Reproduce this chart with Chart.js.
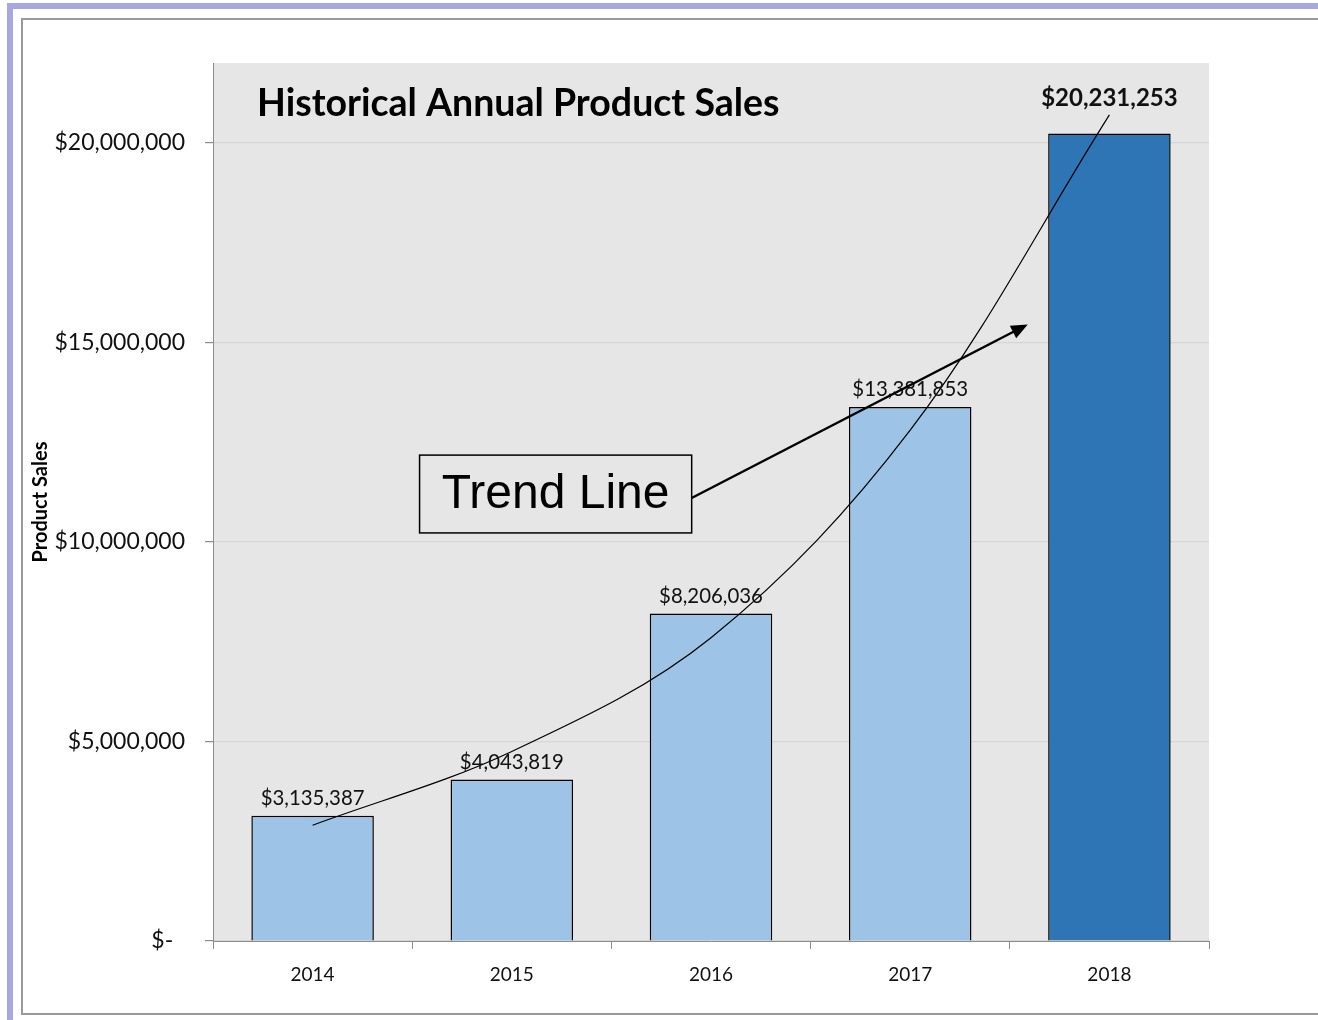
<!DOCTYPE html>
<html>
<head>
<meta charset="utf-8">
<script src="https://cdn.jsdelivr.net/npm/chart.js@4.4.1/dist/chart.umd.min.js"></script>
<style>
  html, body { margin: 0; padding: 0; background: #fff; }
  body { width: 1318px; height: 1020px; position: relative; overflow: hidden; }
  .outer { position: absolute; left: 7px; top: 3px; width: 1400px; height: 1100px;
           border-left: 6px solid #a7a7e2; border-top: 6px solid #a7a7e2; }
  .inner { position: absolute; left: 21px; top: 18px; width: 1400px; height: 993px;
           border: 2px solid #9a9a9a; }
  .wrap { position: absolute; left: 0; top: 0; width: 1318px; height: 1020px; }
</style>
</head>
<body>
<div class="outer"></div>
<div class="inner"></div>
<div class="wrap"><canvas id="sales-chart"></canvas></div>
<script>
const years = ['2014', '2015', '2016', '2017', '2018'];
const sales = [3135387, 4043819, 8206036, 13381853, 20231253];
// trend curve at each year
const trendValues = [2900000, 4750000, 7600000, 12800000, 20700000];
const yTicks = [0, 5000000, 10000000, 15000000, 20000000];
const chartTitle = 'Historical Annual Product Sales';
const yTitle = 'Product Sales';
// note box + arrow, in data units (x = year index, y = dollars)
const noteText = 'Trend Line';
const noteBox = [0.537, 12175000, 1.903, 10225000];
const noteArrow = [1.903, 11100000, 3.59, 15450000];

const money = v => v === 0 ? '$-  ' : '$' + v.toLocaleString('en-US');

const plotBg = {
  id: 'plotBg',
  beforeDraw(chart) {
    const { ctx, chartArea: a } = chart;
    ctx.save();
    ctx.fillStyle = '#e6e6e6';
    ctx.fillRect(a.left, a.top, a.right - a.left, a.bottom - a.top);
    ctx.restore();
  }
};

const extras = {
  id: 'extras',
  afterDatasetsDraw(chart) {
    const { ctx, chartArea: a, scales: { x, y } } = chart;
    ctx.save();
    // value labels
    const bars = chart.getDatasetMeta(1).data;
    bars.forEach((bar, i) => {
      const last = i === sales.length - 1;
      ctx.font = last ? 'bold 24px Lato' : '20.4px Lato';
      ctx.fillStyle = '#111';
      ctx.textAlign = 'center';
      ctx.textBaseline = 'alphabetic';
      ctx.fillText(money(sales[i]), bar.x, bar.y - (last ? 28 : 11));
    });
    // title
    ctx.font = 'bold 37.5px Lato';
    ctx.fillStyle = '#000';
    ctx.textAlign = 'left';
    ctx.fillText(chartTitle, a.left + 44, a.top + 53);
    // note box
    const bx1 = x.getPixelForValue(noteBox[0]), by1 = y.getPixelForValue(noteBox[1]);
    const bx2 = x.getPixelForValue(noteBox[2]), by2 = y.getPixelForValue(noteBox[3]);
    ctx.fillStyle = '#e6e6e6';
    ctx.fillRect(bx1, by1, bx2 - bx1, by2 - by1);
    ctx.strokeStyle = '#000';
    ctx.lineWidth = 1.5;
    ctx.strokeRect(bx1, by1, bx2 - bx1, by2 - by1);
    ctx.font = '48px "Liberation Sans", Arial';
    ctx.fillStyle = '#000';
    ctx.textAlign = 'center';
    ctx.textBaseline = 'middle';
    ctx.fillText(noteText, (bx1 + bx2) / 2, (by1 + by2) / 2 + 1);
    // arrow
    const ax1 = x.getPixelForValue(noteArrow[0]), ay1 = y.getPixelForValue(noteArrow[1]);
    const ax2 = x.getPixelForValue(noteArrow[2]), ay2 = y.getPixelForValue(noteArrow[3]);
    const ang = Math.atan2(ay2 - ay1, ax2 - ax1);
    const head = 18;
    ctx.lineWidth = 2.5;
    ctx.beginPath();
    ctx.moveTo(ax1, ay1);
    ctx.lineTo(ax2 - head * 0.8 * Math.cos(ang), ay2 - head * 0.8 * Math.sin(ang));
    ctx.stroke();
    ctx.beginPath();
    ctx.moveTo(ax2, ay2);
    ctx.lineTo(ax2 - head * Math.cos(ang - 0.4), ay2 - head * Math.sin(ang - 0.4));
    ctx.lineTo(ax2 - head * Math.cos(ang + 0.4), ay2 - head * Math.sin(ang + 0.4));
    ctx.closePath();
    ctx.fillStyle = '#000';
    ctx.fill();
    ctx.restore();
  }
};

new Chart(document.getElementById('sales-chart'), {
  data: {
    labels: years,
    datasets: [
      {
        type: 'line',
        label: 'Trend',
        data: trendValues,
        borderColor: '#000',
        borderWidth: 1.2,
        pointRadius: 0,
        tension: 0.35,
        order: 0
      },
      {
        type: 'bar',
        label: 'Sales',
        data: sales,
        backgroundColor: sales.map((v, i) => i === sales.length - 1 ? '#2e75b6' : '#9dc3e6'),
        borderColor: '#000',
        borderWidth: 1.5,
        barPercentage: 0.615,
        categoryPercentage: 1,
        order: 1
      }
    ]
  },
  options: {
    responsive: true,
    maintainAspectRatio: false,
    animation: false,
    layout: { padding: { left: 22, right: 109, top: 63, bottom: 19 } },
    plugins: { legend: { display: false }, tooltip: { enabled: false } },
    scales: {
      x: {
        afterFit: s => { s.height = 60; },
        grid: { offset: true, drawOnChartArea: false, drawTicks: true, tickLength: 8, tickColor: '#8c8c8c' },
        border: { color: '#8c8c8c', width: 1 },
        ticks: { color: '#111', font: { family: 'Lato', size: 19 }, padding: 14, maxRotation: 0 }
      },
      y: {
        min: 0,
        max: 22000000,
        afterFit: s => { s.width = 191; },
        afterBuildTicks: s => { s.ticks = yTicks.map(v => ({ value: v })); },
        grid: { color: '#d6d6d6', tickLength: 8, tickColor: '#8c8c8c', lineWidth: 1.2 },
        border: { color: '#8c8c8c', width: 1 },
        ticks: { color: '#111', font: { family: 'Lato', size: 23 }, padding: 20, callback: v => money(v) },
        title: { display: true, text: yTitle, color: '#000', font: { family: 'Lato', size: 20, weight: 'bold' }, padding: { top: 7, bottom: 0 } }
      }
    }
  },
  plugins: [plotBg, extras]
});
</script>
</body>
</html>
